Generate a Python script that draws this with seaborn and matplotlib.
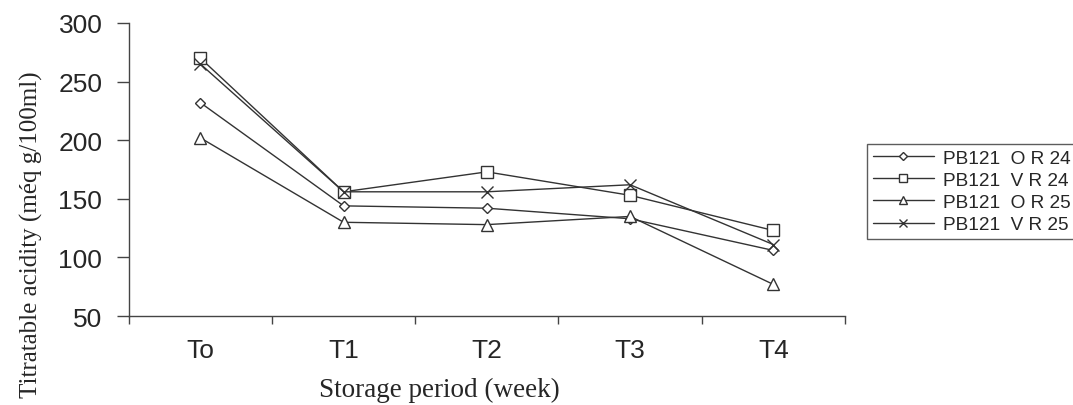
import pandas as pd
import matplotlib.pyplot as plt
import seaborn as sns

# --- DATA ---
periods = ["To", "T1", "T2", "T3", "T4"]
series_names = ["PB121  O R 24", "PB121  V R 24", "PB121  O R 25", "PB121  V R 25"]
or24 = [232, 144, 142, 133, 106]
vr24 = [270, 156, 173, 153, 123]
or25 = [202, 130, 128, 135, 77]
vr25 = [265, 156, 156, 162, 111]
y_ticks = [50, 100, 150, 200, 250, 300]

rows = []
for name, vals in zip(series_names, [or24, vr24, or25, vr25]):
    for p, v in zip(periods, vals):
        rows.append({"period": p, "value": v, "series": name})
df = pd.DataFrame(rows)

sns.set_style("white")
plt.rcParams["font.family"] = ["Liberation Sans", "DejaVu Sans"]

fig = plt.figure(figsize=(10.73, 4.06), dpi=100)
ax = fig.add_axes([0.120, 0.219, 0.6675, 0.722])

markers = {series_names[0]: "D", series_names[1]: "s",
           series_names[2]: "^", series_names[3]: "x"}
sizes = {"D": 5, "s": 8, "^": 8, "x": 8}
LINE = "#333333"
SERIF = ["Liberation Serif", "DejaVu Serif"]

# one lineplot per series (filled and line-art markers can't be mixed)
for name in series_names:
    m = markers[name]
    sub = df[df["series"] == name]
    sns.lineplot(data=sub, x="period", y="value", marker=m, markersize=sizes[m],
                 markerfacecolor="white", markeredgecolor=LINE, markeredgewidth=1.0,
                 color=LINE, linewidth=1.0, ax=ax, sort=False, label=name, legend=False)

ax.set_xlim(-0.5, len(periods) - 0.5)
ax.set_ylim(50, 300)
ax.set_yticks(y_ticks)
ax.set_xticks(range(len(periods)))
ax.set_xticklabels(periods)
ax.set_xticks([i - 0.5 for i in range(len(periods) + 1)], minor=True)
ax.tick_params(axis="x", which="major", bottom=False, length=0, pad=16, labelsize=19)
ax.tick_params(axis="x", which="minor", bottom=True, length=6, width=1,
               color="#444444", direction="out")
ax.tick_params(axis="y", left=True, length=9, width=1, color="#444444",
               direction="out", labelsize=19, pad=10)

for s in ["top", "right"]:
    ax.spines[s].set_visible(False)
for s in ["left", "bottom"]:
    ax.spines[s].set_color("#444444")
    ax.spines[s].set_linewidth(1.0)

ax.set_xlabel("Storage period (week)", family=SERIF, fontsize=19.5)
ax.set_ylabel("Titratable acidity (méq g/100ml)", family=SERIF, fontsize=18)
ax.xaxis.set_label_coords(0.434, -0.208)
ax.yaxis.set_label_coords(-0.12, 0.28)

handles = ax.get_lines()[:len(series_names)]
leg = fig.legend(handles=handles, labels=series_names, loc="upper left",
                 bbox_to_anchor=(0.808, 0.643), borderaxespad=0, frameon=True,
                 fancybox=False, edgecolor="#333333", fontsize=13.7, handlelength=3.2,
                 labelspacing=0.25, borderpad=0.3, handletextpad=0.5, markerscale=0.8)
leg.get_frame().set_linewidth(1.0)

fig.savefig("out.png", dpi=100)
